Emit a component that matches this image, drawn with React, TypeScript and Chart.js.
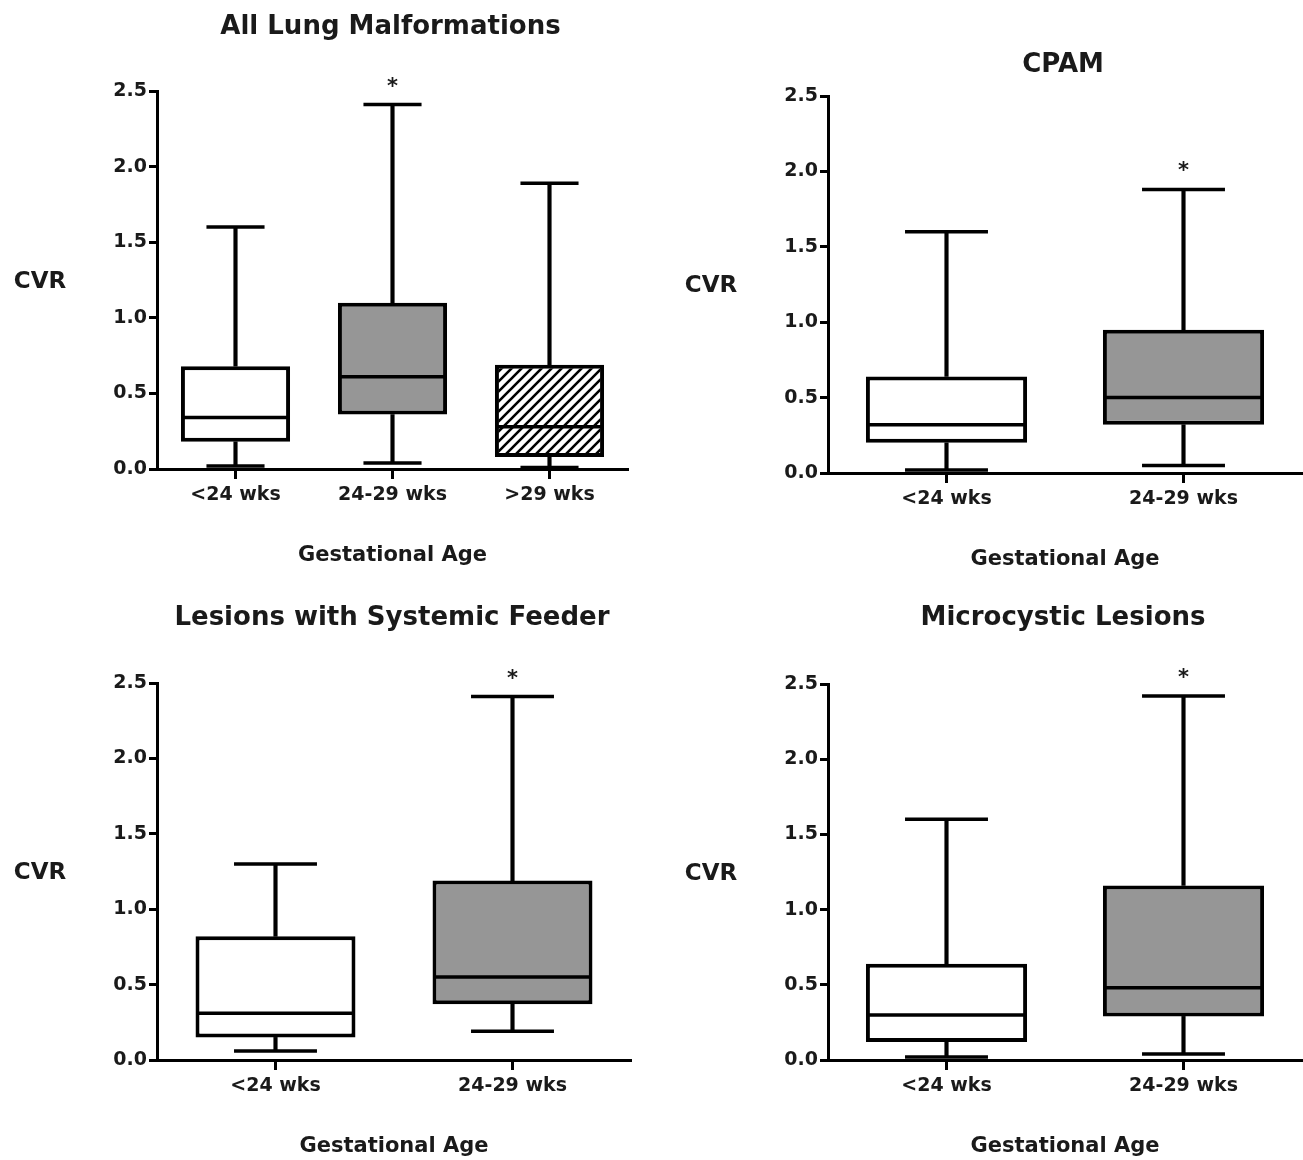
import React, { useEffect, useRef } from 'react';
import { Chart, registerables } from 'chart.js';

Chart.register(...registerables);

// ---------- data ----------
const CATS_3 = ['<24 wks', '24-29 wks', '>29 wks'];
const CATS_2 = ['<24 wks', '24-29 wks'];
const Y_TICKS = [0, 0.5, 1.0, 1.5, 2.0, 2.5];

// All Lung Malformations
const ALL_MIN = [0.02, 0.04, 0.01];
const ALL_Q1 = [0.18, 0.36, 0.08];
const ALL_MED = [0.34, 0.61, 0.28];
const ALL_Q3 = [0.68, 1.1, 0.69];
const ALL_MAX = [1.6, 2.41, 1.89];
const ALL_SIG = [false, true, false];

// CPAM
const CPAM_MIN = [0.02, 0.05];
const CPAM_Q1 = [0.2, 0.32];
const CPAM_MED = [0.32, 0.5];
const CPAM_Q3 = [0.64, 0.95];
const CPAM_MAX = [1.6, 1.88];
const CPAM_SIG = [false, true];

// Lesions with Systemic Feeder
const FEED_MIN = [0.06, 0.19];
const FEED_Q1 = [0.15, 0.37];
const FEED_MED = [0.31, 0.55];
const FEED_Q3 = [0.82, 1.19];
const FEED_MAX = [1.3, 2.41];
const FEED_SIG = [false, true];

// Microcystic Lesions
const MICRO_MIN = [0.02, 0.04];
const MICRO_Q1 = [0.12, 0.29];
const MICRO_MED = [0.3, 0.48];
const MICRO_Q3 = [0.64, 1.16];
const MICRO_MAX = [1.6, 2.42];
const MICRO_SIG = [false, true];

// ---------- styles ----------
const FONT = '"DejaVu Sans", "Liberation Sans", sans-serif';
const TEXT = '#1a1a1a';
const GREY = '#969696';
const INK = '#000000';
const LINE_W = 3.5;

type Fill = 'white' | 'grey' | 'hatch';

type PanelCfg = {
  title: string;
  labels: string[];
  min: number[];
  q1: number[];
  med: number[];
  q3: number[];
  max: number[];
  sig: boolean[];
  fills: Fill[];
  left: number;
  top: number;
  width: number;
  height: number;
  pad: { left: number; right: number; top: number; bottom: number };
  yWidth: number;
  boxRatio: number;
  capRatio: number;
  titleGap: number;
};

const PANELS: PanelCfg[] = [
  {
    title: 'All Lung Malformations',
    labels: CATS_3,
    min: ALL_MIN, q1: ALL_Q1, med: ALL_MED, q3: ALL_Q3, max: ALL_MAX, sig: ALL_SIG,
    fills: ['white', 'grey', 'hatch'],
    left: 0, top: 0, width: 650, height: 585,
    pad: { left: 0, right: 22, top: 91, bottom: 76 },
    yWidth: 157, boxRatio: 0.695, capRatio: 0.37, titleGap: 64,
  },
  {
    title: 'CPAM',
    labels: CATS_2,
    min: CPAM_MIN, q1: CPAM_Q1, med: CPAM_MED, q3: CPAM_Q3, max: CPAM_MAX, sig: CPAM_SIG,
    fills: ['white', 'grey'],
    left: 650, top: 0, width: 653, height: 585,
    pad: { left: 0, right: 1, top: 96, bottom: 72 },
    yWidth: 178, boxRatio: 0.68, capRatio: 0.35, titleGap: 31,
  },
  {
    title: 'Lesions with Systemic Feeder',
    labels: CATS_2,
    min: FEED_MIN, q1: FEED_Q1, med: FEED_MED, q3: FEED_Q3, max: FEED_MAX, sig: FEED_SIG,
    fills: ['white', 'grey'],
    left: 0, top: 585, width: 650, height: 575,
    pad: { left: 0, right: 19, top: 98, bottom: 60 },
    yWidth: 157, boxRatio: 0.675, capRatio: 0.35, titleGap: 65,
  },
  {
    title: 'Microcystic Lesions',
    labels: CATS_2,
    min: MICRO_MIN, q1: MICRO_Q1, med: MICRO_MED, q3: MICRO_Q3, max: MICRO_MAX, sig: MICRO_SIG,
    fills: ['white', 'grey'],
    left: 650, top: 585, width: 653, height: 575,
    pad: { left: 0, right: 1, top: 99, bottom: 60 },
    yWidth: 178, boxRatio: 0.68, capRatio: 0.35, titleGap: 66,
  },
];

function makeHatch(): CanvasPattern | string {
  const s = 10;
  const c = document.createElement('canvas');
  c.width = s;
  c.height = s;
  const g = c.getContext('2d');
  if (!g) return '#ffffff';
  g.fillStyle = '#ffffff';
  g.fillRect(0, 0, s, s);
  g.strokeStyle = '#000000';
  g.lineWidth = 2.6;
  g.beginPath();
  g.moveTo(-s, s * 2);
  g.lineTo(s * 2, -s);
  g.moveTo(-s, s);
  g.lineTo(s, -s);
  g.moveTo(0, s * 2);
  g.lineTo(s * 2, 0);
  g.stroke();
  const pat = g.createPattern(c, 'repeat');
  return pat || '#ffffff';
}

const textPlugin = {
  id: 'panelText',
  afterDraw(chart: any, _args: any, opts: any) {
    const { ctx, chartArea: a, scales } = chart;
    ctx.save();
    ctx.fillStyle = TEXT;
    ctx.textAlign = 'center';
    ctx.textBaseline = 'middle';
    const cx = (a.left + a.right) / 2;
    ctx.font = `bold 26px ${FONT}`;
    ctx.fillText(opts.title, cx - 2, a.top - opts.titleGap);
    ctx.font = `bold 23px ${FONT}`;
    ctx.fillText('CVR', a.left - 117, (a.top + a.bottom) / 2 + 2);
    ctx.font = `bold 21px ${FONT}`;
    ctx.fillText('Gestational Age', cx, a.bottom + 87);
    ctx.font = `bold 21px ${FONT}`;
    ctx.textBaseline = 'alphabetic';
    (opts.sig as boolean[]).forEach((s, i) => {
      if (!s) return;
      const x = scales.x.getPixelForValue(i);
      const y = scales.y.getPixelForValue(opts.max[i]);
      ctx.fillText('*', x, y - 12);
    });
    ctx.restore();
  },
};

function BoxPanel({ p }: { p: PanelCfg }) {
  const ref = useRef<HTMLCanvasElement>(null);

  useEffect(() => {
    const canvas = ref.current;
    if (!canvas) return;
    const hatch = makeHatch();
    const fills = p.fills.map((f) => (f === 'grey' ? GREY : f === 'hatch' ? hatch : '#ffffff'));
    const catW = (c: any) => c.chart.scales.x.width / p.labels.length;

    const pointSet = (data: number[], ratio: number, inset: number, order: number) => ({
      type: 'line' as const,
      data,
      showLine: false,
      pointStyle: 'line' as const,
      pointRadius: (c: any) => (catW(c) * ratio) / 2 - inset,
      pointHoverRadius: (c: any) => (catW(c) * ratio) / 2 - inset,
      pointBorderWidth: LINE_W,
      pointBorderColor: INK,
      pointBackgroundColor: INK,
      clip: false as any,
      order,
    });

    const chart = new Chart(canvas, {
      type: 'bar',
      data: {
        labels: p.labels,
        datasets: [
          {
            type: 'bar',
            data: p.q1.map((v, i) => [p.min[i], v]),
            backgroundColor: INK,
            borderWidth: 0,
            barThickness: LINE_W,
            grouped: false,
            clip: false as any,
            order: 4,
          } as any,
          {
            type: 'bar',
            data: p.q3.map((v, i) => [v, p.max[i]]),
            backgroundColor: INK,
            borderWidth: 0,
            barThickness: LINE_W,
            grouped: false,
            clip: false as any,
            order: 4,
          } as any,
          {
            type: 'bar',
            data: p.q1.map((v, i) => [v, p.q3[i]]),
            backgroundColor: fills,
            borderColor: INK,
            borderWidth: 4,
            borderSkipped: false,
            categoryPercentage: 1,
            barPercentage: p.boxRatio,
            grouped: false,
            clip: false as any,
            order: 3,
          } as any,
          pointSet(p.med, p.boxRatio, 1, 1) as any,
          pointSet(p.max, p.capRatio, 0, 2) as any,
          pointSet(p.min, p.capRatio, 0, 2) as any,
        ],
      },
      options: {
        animation: false,
        responsive: false,
        maintainAspectRatio: false,
        layout: { padding: p.pad },
        plugins: {
          legend: { display: false },
          tooltip: { enabled: false },
          title: { display: false },
          panelText: { title: p.title, titleGap: p.titleGap, sig: p.sig, max: p.max },
        } as any,
        scales: {
          x: {
            type: 'category',
            offset: true,
            afterFit: (s: any) => {
              s.height = 40;
            },
            grid: {
              display: true,
              offset: false,
              drawOnChartArea: false,
              drawTicks: true,
              tickLength: 10,
              tickWidth: 3,
              tickColor: INK,
              color: INK,
            },
            border: { display: true, color: INK, width: 3 },
            ticks: {
              color: TEXT,
              padding: 5,
              font: { family: FONT, size: 19, weight: 'bold' },
              maxRotation: 0,
              autoSkip: false,
            },
          },
          y: {
            type: 'linear',
            min: 0,
            max: 2.5,
            afterFit: (s: any) => {
              s.width = p.yWidth;
            },
            afterBuildTicks: (s: any) => {
              s.ticks = Y_TICKS.map((v) => ({ value: v }));
            },
            grid: {
              display: true,
              drawOnChartArea: false,
              drawTicks: true,
              tickLength: 8,
              tickWidth: 3,
              tickColor: INK,
              color: INK,
            },
            border: { display: true, color: INK, width: 3 },
            ticks: {
              color: TEXT,
              padding: 2,
              font: { family: FONT, size: 19, weight: 'bold' },
              callback: (v: any) => Number(v).toFixed(1),
            },
          },
        },
      } as any,
      plugins: [textPlugin as any],
    });

    return () => chart.destroy();
  }, [p]);

  return (
    <canvas
      ref={ref}
      width={p.width}
      height={p.height}
      style={{ position: 'absolute', left: p.left, top: p.top, width: p.width, height: p.height }}
    />
  );
}

export default function App() {
  return (
    <div
      style={{
        position: 'absolute',
        left: 0,
        top: 0,
        width: 1303,
        height: 1160,
        background: '#ffffff',
        overflow: 'hidden',
      }}
    >
      {PANELS.map((p) => (
        <BoxPanel key={p.title} p={p} />
      ))}
    </div>
  );
}
